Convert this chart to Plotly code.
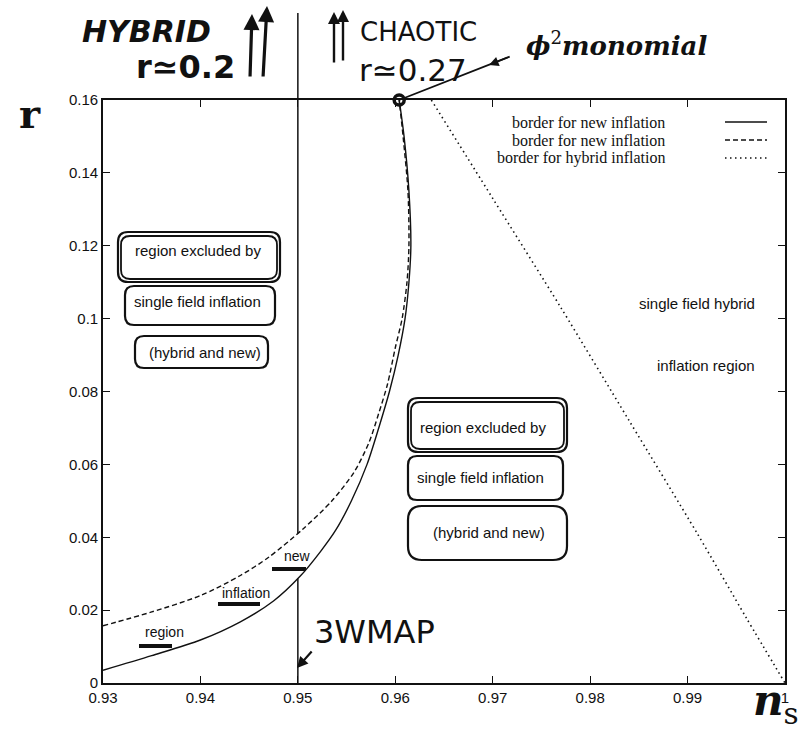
import numpy as np
import plotly.graph_objects as go

# ---- data -----------------------------------------------------------------
# border for new inflation (solid curve)
ns_new_solid = [0.9300, 0.9350, 0.9400, 0.9441, 0.9475, 0.9502, 0.9523, 0.9539,
                0.9555, 0.9571, 0.9583, 0.9594, 0.9603, 0.9610, 0.9614, 0.9616,
                0.9614, 0.9609, 0.9604]
r_new_solid = [0.0035, 0.0075, 0.0118, 0.0168, 0.0225, 0.0292, 0.0360, 0.0420,
               0.0500, 0.0600, 0.0700, 0.0800, 0.0900, 0.1000, 0.1100, 0.1200,
               0.1350, 0.1500, 0.1600]

# border for new inflation (dashed curve)
ns_new_dashed = [0.9300, 0.9350, 0.9400, 0.9441, 0.9470, 0.9505, 0.9535, 0.9558,
                 0.9573, 0.9583, 0.9592, 0.9600, 0.9607, 0.9612, 0.9614, 0.9613,
                 0.9608, 0.9604]
r_new_dashed = [0.0157, 0.0195, 0.0240, 0.0295, 0.0345, 0.0422, 0.0500, 0.0580,
                0.0660, 0.0740, 0.0820, 0.0920, 0.1000, 0.1100, 0.1200, 0.1350,
                0.1500, 0.1600]

# border for hybrid inflation (dotted line)
ns_hybrid = [0.9637, 0.9700, 0.9770, 0.9840, 0.9910, 0.9960, 1.0000]
r_hybrid = [0.1600, 0.1330, 0.1030, 0.0720, 0.0410, 0.0180, 0.0000]

# phi^2 chaotic point and the 3-year WMAP bound
ns_chaotic = 0.9604
r_chaotic = 0.16
ns_wmap = 0.95

x_ticks = [0.93, 0.94, 0.95, 0.96, 0.97, 0.98, 0.99, 1.00]
x_tick_text = ["0.93", "0.94", "0.95", "0.96", "0.97", "0.98", "0.99", "1"]
y_ticks = [0.0, 0.02, 0.04, 0.06, 0.08, 0.10, 0.12, 0.14, 0.16]
y_tick_text = ["0", "0.02", "0.04", "0.06", "0.08", "0.1", "0.12", "0.14", "0.16"]

legend_labels = ["border for new inflation", "border for new inflation",
                 "border for hybrid inflation"]

# ---- page geometry ------------------------------------------------------------
W, H = 802, 734
PX0, PX1, PY0, PY1 = 103, 785, 100, 683
X_RANGE = [0.93, 1.0]
Y_RANGE = [0.0, 0.16]


def px(x):
    return (x - PX0) / (PX1 - PX0)


def py(y):
    return (PY1 - y) / (PY1 - PY0)


def xd2paper(v):
    return (v - X_RANGE[0]) / (X_RANGE[1] - X_RANGE[0])


def yd2paper(v):
    return (v - Y_RANGE[0]) / (Y_RANGE[1] - Y_RANGE[0])


INK = "#111111"
SANS = "Liberation Sans, Arial, sans-serif"
SERIF = "Liberation Serif, Times New Roman, serif"
HAND = "DejaVu Sans, sans-serif"

fig = go.Figure()

fig.add_trace(go.Scatter(x=ns_new_solid, y=r_new_solid, mode="lines",
                         line=dict(color=INK, width=1.4, shape="spline",
                                   smoothing=0.8),
                         name=legend_labels[0]))
fig.add_trace(go.Scatter(x=ns_new_dashed, y=r_new_dashed, mode="lines",
                         line=dict(color=INK, width=1.4, dash="5px,3px",
                                   shape="spline", smoothing=0.8),
                         name=legend_labels[1]))
fig.add_trace(go.Scatter(x=ns_hybrid, y=r_hybrid, mode="lines",
                         line=dict(color=INK, width=1.6, dash="1.5px,3.5px",
                                   shape="spline", smoothing=0.8),
                         name=legend_labels[2]))
fig.add_trace(go.Scatter(x=[ns_chaotic], y=[r_chaotic], mode="markers",
                         marker=dict(symbol="circle-open", size=10, color=INK,
                                     line=dict(width=3.5, color=INK)),
                         cliponaxis=False, showlegend=False))

shapes = []
annotations = []

# WMAP line at n_s = 0.95, interrupted between the two new-inflation borders
r_cross_dashed = float(np.interp(ns_wmap, ns_new_dashed[:7], r_new_dashed[:7]))
r_cross_solid = float(np.interp(ns_wmap, ns_new_solid[:9], r_new_solid[:9]))
xw = xd2paper(ns_wmap)
shapes.append(dict(type="line", xref="paper", yref="paper", x0=xw, x1=xw,
                   y0=yd2paper(r_cross_dashed), y1=py(13),
                   line=dict(color=INK, width=1.5)))
shapes.append(dict(type="line", xref="paper", yref="paper", x0=xw, x1=xw,
                   y0=0, y1=yd2paper(r_cross_solid),
                   line=dict(color=INK, width=1.5)))

# key, gnuplot style: text on the left, line sample on the right
key_rows = [122, 140, 158]
key_dash = ["solid", "5px,3px", "1.5px,3.5px"]
for lab, yy, dsh in zip(legend_labels, key_rows, key_dash):
    annotations.append(dict(x=px(667), y=py(yy), xref="paper", yref="paper",
                            text=lab, showarrow=False, xanchor="right",
                            yanchor="middle",
                            font=dict(family=SERIF, size=16, color=INK)))
    shapes.append(dict(type="line", xref="paper", yref="paper",
                       x0=px(725), x1=px(767), y0=py(yy), y1=py(yy),
                       line=dict(color=INK, width=1.4, dash=dsh)))


def label(text, cx, cy, size=15, family=SANS, anchor="center", yanchor="middle"):
    annotations.append(dict(x=px(cx), y=py(cy), xref="paper", yref="paper",
                            text=text, showarrow=False, xanchor=anchor,
                            yanchor=yanchor,
                            font=dict(family=family, size=size, color=INK)))


def rbox(x0, y0, x1, y1, rad=9, width=2.2):
    pts = [("M", x0 + rad, y0), ("L", x1 - rad, y0), ("Q", x1, y0, x1, y0 + rad),
           ("L", x1, y1 - rad), ("Q", x1, y1, x1 - rad, y1), ("L", x0 + rad, y1),
           ("Q", x0, y1, x0, y1 - rad), ("L", x0, y0 + rad),
           ("Q", x0, y0, x0 + rad, y0)]
    parts = []
    for p in pts:
        cmd, coords = p[0], p[1:]
        cs = []
        for i in range(0, len(coords), 2):
            cs.append(f"{px(coords[i]):.5f},{py(coords[i + 1]):.5f}")
        parts.append(cmd + " " + " ".join(cs))
    shapes.append(dict(type="path", xref="paper", yref="paper",
                       path=" ".join(parts) + " Z",
                       line=dict(color=INK, width=width)))


def stroke(x0, y0, x1, y1, width=4):
    shapes.append(dict(type="line", xref="paper", yref="paper",
                       x0=px(x0), x1=px(x1), y0=py(y0), y1=py(y1),
                       line=dict(color=INK, width=width)))


def arrow(hx, hy, dx, dy, width=2, head=2, size=1.0):
    annotations.append(dict(x=px(hx), y=py(hy), xref="paper", yref="paper",
                            ax=dx, ay=dy, axref="pixel", ayref="pixel",
                            text="", showarrow=True, arrowhead=head,
                            arrowwidth=width, arrowsize=size, arrowcolor=INK))


# printed region labels inside the plot
label("region excluded by", 198, 250)
label("single field inflation", 197, 301)
label("(hybrid and new)", 205, 352)
label("region excluded by", 483, 427)
label("single field inflation", 481, 477)
label("(hybrid and new)", 489, 532)
label("single field hybrid", 697, 303)
label("inflation region", 706, 365)
label("new", 297, 556, size=14)
label("inflation", 246, 593, size=14)
label("region", 164, 632, size=14)

# hand-drawn frames round the excluded-region labels
rbox(118, 232, 280, 282, rad=10)
rbox(121, 236, 277, 279, rad=9, width=1.8)
rbox(125, 286, 275, 325, rad=9)
rbox(135, 336, 268, 368, rad=9)
rbox(408, 398, 567, 452, rad=10)
rbox(411, 402, 564, 449, rad=9, width=1.8)
rbox(408, 456, 563, 500, rad=9)
rbox(408, 506, 567, 560, rad=14)

# scribbled underlines
stroke(272, 569, 306, 569)
stroke(218, 604, 260, 604)
stroke(139, 646, 172, 646)

# handwritten notes
label("<b><i>HYBRID</i></b>", 146, 31, size=30, family=HAND)
label("<b>r≃0.2</b>", 185, 67, size=32, family=HAND)
arrow(252, 14, -2, 64, width=3.2, size=1.0)
arrow(267, 6, -4, 72, width=3.2, size=1.0)
label("CHAOTIC", 418, 32, size=26, family=HAND)
label("r≃0.27", 413, 70, size=31, family=HAND)
arrow(334, 12, 0, 52, width=2.4, size=1.0)
arrow(343, 10, 0, 52, width=2.4, size=1.0)
annotations.append(dict(x=ns_chaotic, y=r_chaotic, xref="x", yref="y",
                        ax=112, ay=-44, axref="pixel", ayref="pixel", text="",
                        showarrow=True, arrowhead=0, arrowwidth=1.8,
                        arrowcolor=INK))
arrow(489, 65, 20, -8, width=1.6, head=2, size=1.2)
label("<b><i>ϕ</i></b><sup>2</sup><b><i>monomial</i></b>", 524, 44, size=26,
      family="DejaVu Serif, serif", anchor="left")
label("3WMAP", 374, 632, size=32, family=HAND)
arrow(297, 668, 16, -18, width=2.2, head=2, size=1.0)
label("<b>r</b>", 30, 114, size=40, family="DejaVu Serif, serif")
label("<b><i>n</i></b><sub>s</sub>", 801, 733, size=42,
      family="DejaVu Serif, serif", anchor="right", yanchor="bottom")

axis_common = dict(showline=True, linecolor=INK, linewidth=1.6, mirror="ticks",
                   ticks="inside", ticklen=7, tickwidth=1.4, tickcolor=INK,
                   showgrid=False, zeroline=False,
                   tickfont=dict(family=SANS, size=15, color=INK))

fig.update_layout(
    width=W, height=H,
    margin=dict(l=PX0, r=W - PX1, t=PY0, b=H - PY1, pad=0),
    paper_bgcolor="white", plot_bgcolor="white",
    showlegend=False,
    xaxis=dict(range=X_RANGE, tickvals=x_ticks, ticktext=x_tick_text,
               **axis_common),
    yaxis=dict(range=Y_RANGE, tickvals=y_ticks, ticktext=y_tick_text,
               **axis_common),
    shapes=shapes,
    annotations=annotations,
)

fig.write_html("out.html")
